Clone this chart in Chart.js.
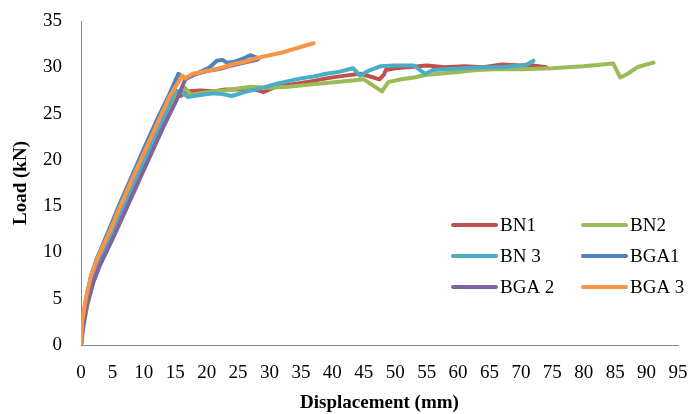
<!DOCTYPE html>
<html>
<head>
<meta charset="utf-8">
<script src="https://cdn.jsdelivr.net/npm/chart.js@4/dist/chart.umd.min.js"></script>
<style>
  html, body { margin: 0; padding: 0; background: #fff; }
  #wrap { width: 693px; height: 414px; }
</style>
</head>
<body>
<div id="wrap"><canvas id="chart"></canvas></div>
<script>
// Load-displacement curves (x in mm, y in kN)
const bn1X = [0, 0.3, 1, 2, 3, 4, 5, 7, 9, 11, 13, 14.3, 15, 15.8, 17, 19, 21, 23, 25, 27, 28.3, 29, 31, 33, 36, 39, 42, 44.5, 46, 47.5, 48.2, 48.5, 50, 52, 55, 58, 61, 64, 67, 70, 72, 74];
const bn1Y = [0, 2.3, 4.8, 7.3, 9, 10.5, 12, 15.2, 18.3, 21.2, 24.4, 26.6, 27.3, 26.9, 27.4, 27.5, 27.4, 27.6, 27.6, 27.7, 27.5, 27.3, 27.9, 28.1, 28.4, 28.8, 29.1, 29.3, 29.0, 28.7, 29.2, 29.7, 29.9, 30.0, 30.2, 30.0, 30.1, 30.0, 30.3, 30.2, 30.2, 30.0];

const bn2X = [0, 0.4, 1, 2, 3, 4, 5, 7, 9, 11, 13, 15, 16.5, 17.5, 19, 21, 23, 25, 27, 30, 33, 36, 39, 42, 45, 47.9, 48.9, 51, 53, 55, 57, 60, 63, 66, 70, 75, 80, 84.7, 85.8, 87, 88.5, 90, 91.1];
const bn2Y = [0, 2, 4.3, 6.8, 8.6, 10.1, 11.6, 14.8, 17.9, 20.8, 23.9, 26.8, 27.8, 27.0, 27.2, 27.4, 27.5, 27.7, 27.9, 27.8, 27.9, 28.1, 28.3, 28.5, 28.7, 27.4, 28.4, 28.7, 28.9, 29.2, 29.3, 29.5, 29.7, 29.8, 29.8, 29.9, 30.1, 30.4, 28.9, 29.3, 30.0, 30.3, 30.5];

const bn3X = [0, 0.3, 1, 2, 3, 4, 5, 7, 9, 11, 13, 15, 16, 17, 19, 21, 22.5, 24, 25.5, 27, 29, 31, 33, 35, 37, 39, 41, 43.3, 44.4, 46, 47.6, 50, 52.9, 54.8, 56, 58, 61, 64, 67, 69.9, 71, 72];
const bn3Y = [0, 2.2, 4.6, 7.1, 8.9, 10.4, 11.9, 15.1, 18.2, 21.1, 24.3, 27.5, 27.3, 26.8, 27.0, 27.2, 27.1, 26.9, 27.2, 27.5, 27.8, 28.2, 28.5, 28.8, 29.0, 29.3, 29.5, 29.9, 29.1, 29.7, 30.1, 30.2, 30.2, 29.3, 29.7, 29.8, 29.9, 30.0, 30.0, 30.2, 30.3, 30.7];

const bga1X = [0, 0.2, 0.8, 1.6, 2.5, 3.5, 4.5, 6, 8, 10, 12, 14, 15.5, 16.5, 17.5, 19, 20.5, 21.6, 22.5, 23.2, 24.5, 26, 26.9, 27.8, 28.2];
const bga1Y = [0, 2.5, 5, 7.5, 9.3, 10.9, 12.5, 15, 18.1, 21.2, 24.2, 27.0, 29.3, 28.8, 29.1, 29.5, 30.0, 30.7, 30.8, 30.5, 30.6, 31.0, 31.3, 31.1, 30.9];

const bga2X = [0, 0.4, 1, 2, 3, 4, 5, 7, 9, 11, 13, 15.3, 16.6, 18, 20, 22, 24, 26, 28];
const bga2Y = [0, 2.3, 4.5, 6.9, 8.6, 10, 11.4, 14.4, 17.4, 20.4, 23.4, 26.6, 28.7, 29.2, 29.6, 29.8, 30.2, 30.5, 30.8];

const bga3X = [0, 0.2, 0.8, 1.6, 2.5, 3.5, 4.5, 6, 8, 10, 12, 14, 16.1, 16.6, 17.8, 20, 22, 24, 26, 28, 30, 32, 34, 35.5, 37];
const bga3Y = [0, 2.6, 5.1, 7.5, 9.2, 10.7, 12.1, 14.6, 17.7, 20.7, 23.7, 26.7, 29.1, 28.8, 29.3, 29.6, 29.9, 30.3, 30.6, 31.0, 31.3, 31.6, 32.0, 32.3, 32.6];

const seriesNames = ['BN1', 'BN2', 'BN 3', 'BGA1', 'BGA 2', 'BGA 3'];
const seriesColors = ['#C0504D', '#9BBB59', '#4BACC6', '#4F81BD', '#8064A2', '#F79646'];
const xs = [bn1X, bn2X, bn3X, bga1X, bga2X, bga3X];
const ys = [bn1Y, bn2Y, bn3Y, bga1Y, bga2Y, bga3Y];

const FONT = 'Liberation Serif, Times New Roman, serif';

function toPoints(x, y) {
  return x.map((v, i) => ({x: v, y: y[i]}));
}

const datasets = seriesNames.map((name, i) => ({
  label: name,
  data: toPoints(xs[i], ys[i]),
  showLine: true,
  borderColor: seriesColors[i],
  backgroundColor: seriesColors[i],
  borderWidth: 4,
  pointRadius: 0,
  tension: 0,
  borderCapStyle: 'round',
  borderJoinStyle: 'round',
  order: seriesNames.length - i   // later series drawn on top, like Excel
}));

// two-column legend sitting inside the plot, lower right
const legendGrid = {
  id: 'legendGrid',
  afterDraw(chart) {
    const ctx = chart.ctx;
    const a = chart.chartArea;
    ctx.save();
    ctx.font = '19px ' + FONT;
    ctx.textBaseline = 'middle';
    ctx.lineCap = 'round';
    ctx.lineWidth = 4;
    seriesNames.forEach((name, i) => {
      const col = i % 2, row = Math.floor(i / 2);
      const x0 = a.left + 372 + col * 130;
      const y0 = a.top + 204 + row * 31;
      ctx.strokeStyle = seriesColors[i];
      ctx.beginPath();
      ctx.moveTo(x0, y0);
      ctx.lineTo(x0 + 43, y0);
      ctx.stroke();
      ctx.fillStyle = '#000';
      ctx.fillText(name, x0 + 47, y0 + 1);
    });
    ctx.restore();
  }
};

new Chart(document.getElementById('chart'), {
  type: 'scatter',
  data: {datasets: datasets},
  plugins: [legendGrid],
  options: {
    responsive: true,
    maintainAspectRatio: false,
    animation: false,
    layout: {padding: {top: 21, right: 15, left: 0, bottom: 0}},
    plugins: {legend: {display: false}, tooltip: {enabled: false}},
    scales: {
      x: {
        type: 'linear',
        min: 0,
        max: 95,
        grid: {display: false, drawTicks: false},
        border: {display: true, color: '#868686', width: 1},
        ticks: {
          stepSize: 5,
          autoSkip: false,
          maxRotation: 0,
          padding: 17,
          color: '#000',
          font: {family: FONT, size: 19}
        },
        title: {
          display: true,
          text: 'Displacement (mm)',
          color: '#000',
          padding: {top: 4, bottom: 0},
          font: {family: FONT, size: 19, weight: 'bold'}
        },
        afterFit(scale) {
          scale.height = 69;
          scale.paddingLeft = 0;
          scale.paddingRight = 0;
        }
      },
      y: {
        type: 'linear',
        min: 0,
        max: 35,
        grid: {display: false, drawTicks: false},
        border: {display: true, color: '#868686', width: 1},
        ticks: {
          stepSize: 5,
          padding: 19,
          color: '#000',
          font: {family: FONT, size: 19}
        },
        title: {
          display: true,
          text: 'Load (kN)',
          color: '#000',
          padding: {top: 10, bottom: 4},
          font: {family: FONT, size: 19, weight: 'bold'}
        },
        afterFit(scale) {
          scale.width = 81;
          scale.paddingTop = 0;
          scale.paddingBottom = 0;
        }
      }
    }
  }
});
</script>
</body>
</html>
